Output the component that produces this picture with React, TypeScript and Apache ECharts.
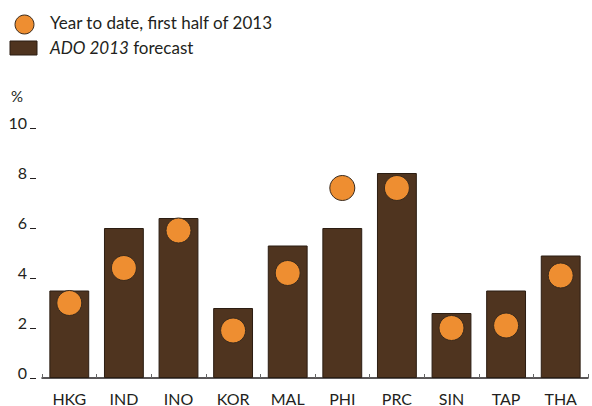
import React, { useEffect, useRef } from "react";
import * as echarts from "echarts";

const categories = ["HKG", "IND", "INO", "KOR", "MAL", "PHI", "PRC", "SIN", "TAP", "THA"];
const forecast2013 = [3.5, 6.0, 6.4, 2.8, 5.3, 6.0, 8.2, 2.6, 3.5, 4.9];
const yearToDate = [3.0, 4.4, 5.9, 1.9, 4.2, 7.6, 7.6, 2.0, 2.1, 4.1];
const yTicks = { min: 0, max: 10, interval: 2 };

const FONT = "Lato";
const TEXT = "#231F20";
const BROWN = "#4F341F";
const ORANGE = "#EE8E31";

export default function App() {
  const ref = useRef<HTMLDivElement>(null);
  useEffect(() => {
    if (!ref.current) return;
    const chart = echarts.init(ref.current, null, { renderer: "svg" });
    chart.setOption({
      animation: false,
      backgroundColor: "#ffffff",
      textStyle: { fontFamily: FONT, color: TEXT },
      grid: { left: 42, right: 4, top: 128, bottom: 27, containLabel: false },
      xAxis: {
        type: "category",
        data: categories,
        axisLine: { lineStyle: { color: TEXT, width: 1.5 } },
        axisTick: { show: true, inside: true, length: 4, lineStyle: { color: "#666", width: 1 } },
        axisLabel: { color: TEXT, fontSize: 16, fontFamily: FONT, margin: 12 },
      },
      yAxis: {
        type: "value",
        min: yTicks.min,
        max: yTicks.max,
        interval: yTicks.interval,
        offset: 6,
        axisLine: { show: false },
        axisTick: { show: true, length: 6, lineStyle: { color: TEXT, width: 1 } },
        splitLine: { show: false },
        axisLabel: {
          color: TEXT,
          fontSize: 16,
          fontFamily: FONT,
          margin: 9,
          verticalAlign: "bottom",
          lineHeight: 12,
        },
      },
      series: [
        {
          name: "ADO 2013 forecast",
          type: "bar",
          data: forecast2013,
          barCategoryGap: "27%",
          itemStyle: { color: BROWN, borderColor: "#2b1d12", borderWidth: 1 },
          z: 2,
        },
        {
          name: "Year to date, first half of 2013",
          type: "scatter",
          data: yearToDate,
          symbol: "circle",
          symbolSize: 25,
          itemStyle: { color: ORANGE, borderColor: "#3a2a1c", borderWidth: 1, opacity: 1 },
          z: 3,
        },
      ],
      graphic: [
        {
          type: "circle",
          shape: { cx: 24.5, cy: 24.5, r: 9.5 },
          style: { fill: ORANGE, stroke: "#3a2a1c", lineWidth: 1 },
        },
        {
          type: "text",
          x: 50,
          y: 22.5,
          style: {
            text: "Year to date, first half of 2013",
            fontFamily: FONT,
            fontSize: 17,
            fill: TEXT,
            verticalAlign: "middle",
          },
        },
        {
          type: "rect",
          shape: { x: 10, y: 41, width: 27, height: 14 },
          style: { fill: BROWN, stroke: "#2b1d12", lineWidth: 1 },
        },
        {
          type: "text",
          x: 50,
          y: 47.5,
          style: {
            text: "{i|ADO 2013} forecast",
            fontFamily: FONT,
            fontSize: 17,
            fill: TEXT,
            verticalAlign: "middle",
            rich: { i: { fontStyle: "italic", fontFamily: FONT, fontSize: 17, fill: TEXT } },
          },
        },
        {
          type: "text",
          x: 11,
          y: 96,
          style: { text: "%", fontFamily: FONT, fontSize: 15, fill: TEXT, verticalAlign: "middle" },
        },
      ],
    });
    return () => chart.dispose();
  }, []);
  return <div ref={ref} style={{ width: 592, height: 406, position: "absolute", left: 0, top: 0 }} />;
}
